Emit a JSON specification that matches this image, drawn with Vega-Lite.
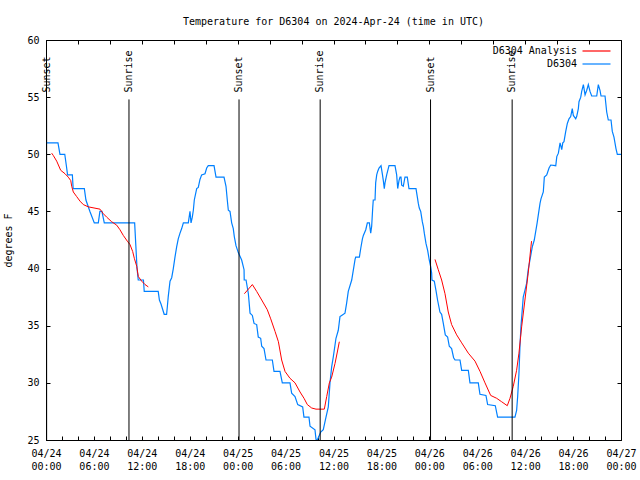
{
  "$schema": "https://vega.github.io/schema/vega-lite/v6.json",
  "width": 575,
  "height": 400,
  "autosize": {"type": "none"},
  "padding": {"left": 46, "top": 40, "right": 19, "bottom": 40},
  "background": "white",
  "title": {
    "text": "Temperature for D6304 on 2024-Apr-24 (time in UTC)",
    "font": "DejaVu Sans Mono",
    "fontSize": 10,
    "fontWeight": "normal",
    "color": "black",
    "anchor": "middle",
    "baseline": "alphabetic",
    "offset": 0
  },
  "config": {
    "font": "DejaVu Sans Mono",
    "view": {"stroke": "black", "strokeWidth": 1},
    "axis": {
      "labelFont": "DejaVu Sans Mono",
      "labelFontSize": 10,
      "labelColor": "black",
      "titleFont": "DejaVu Sans Mono",
      "titleFontSize": 10,
      "titleFontWeight": "normal",
      "titleColor": "black",
      "tickColor": "black",
      "domainColor": "black",
      "grid": false,
      "tickSize": -4,
      "labelFlush": false,
      "labelOverlap": false
    },
    "legend": {
      "labelFont": "DejaVu Sans Mono",
      "labelFontSize": 10,
      "labelColor": "black"
    }
  },
  "datasets": {
    "obs": [
      {"h":0,"t":51},{"h":1.5,"t":51},{"h":1.75,"t":50},{"h":2.35,"t":50},{"h":2.55,"t":49},{"h":2.7,"t":48.2},{"h":3.3,"t":48.2},{"h":3.4,"t":47},{"h":4.8,"t":47},{"h":5.0,"t":46},{"h":5.5,"t":45},{"h":6.05,"t":44},{"h":6.55,"t":44},{"h":6.75,"t":45},{"h":7.0,"t":45},{"h":7.3,"t":44},{"h":11.1,"t":44},{"h":11.25,"t":42},{"h":11.4,"t":40},{"h":11.55,"t":39},{"h":12.2,"t":39},{"h":12.3,"t":38},{"h":14.05,"t":38},{"h":14.2,"t":37.25},{"h":14.4,"t":36.9},{"h":14.8,"t":36},{"h":15.1,"t":36},{"h":15.2,"t":36.7},{"h":15.3,"t":37.5},{"h":15.53,"t":38.9},{"h":15.74,"t":39.2},{"h":15.94,"t":40},{"h":16.15,"t":41},{"h":16.36,"t":41.9},{"h":16.56,"t":42.6},{"h":16.78,"t":43.1},{"h":16.99,"t":43.5},{"h":17.2,"t":44},{"h":17.82,"t":44},{"h":18.03,"t":45},{"h":18.16,"t":44},{"h":18.32,"t":44.5},{"h":18.45,"t":45.1},{"h":18.57,"t":46},{"h":18.87,"t":47},{"h":19.07,"t":47.1},{"h":19.28,"t":47.8},{"h":19.49,"t":48.2},{"h":19.91,"t":48.3},{"h":20.12,"t":48.8},{"h":20.32,"t":49},{"h":21.04,"t":49},{"h":21.29,"t":48},{"h":22.29,"t":48},{"h":22.54,"t":47.2},{"h":22.7,"t":46},{"h":22.83,"t":45.1},{"h":23.04,"t":45},{"h":23.25,"t":44},{"h":23.45,"t":43.5},{"h":23.58,"t":42.8},{"h":23.79,"t":42},{"h":24.08,"t":41.4},{"h":24.5,"t":40.75},{"h":24.8,"t":39.9},{"h":24.82,"t":39},{"h":25.05,"t":39},{"h":25.34,"t":37.8},{"h":25.55,"t":36.1},{"h":25.84,"t":35.9},{"h":26.05,"t":35.2},{"h":26.38,"t":35.1},{"h":26.58,"t":34},{"h":26.88,"t":33.9},{"h":27.01,"t":33.2},{"h":27.3,"t":33},{"h":27.55,"t":32},{"h":28.34,"t":32},{"h":28.55,"t":31},{"h":29.3,"t":31},{"h":29.59,"t":30},{"h":30.55,"t":30},{"h":30.76,"t":29.1},{"h":31.18,"t":28.8},{"h":31.52,"t":28.1},{"h":32.14,"t":27.9},{"h":32.3,"t":27},{"h":32.93,"t":27},{"h":33.06,"t":26.2},{"h":33.68,"t":25.9},{"h":33.81,"t":25.05},{"h":33.97,"t":25},{"h":34.4,"t":25.7},{"h":34.72,"t":25.9},{"h":35.06,"t":27},{"h":35.35,"t":27.9},{"h":35.56,"t":30},{"h":35.77,"t":31.4},{"h":35.98,"t":32.3},{"h":36.31,"t":33.9},{"h":36.6,"t":34.6},{"h":36.81,"t":35.8},{"h":37.02,"t":35.9},{"h":37.44,"t":36.1},{"h":37.65,"t":37},{"h":37.85,"t":38},{"h":38.28,"t":39},{"h":38.7,"t":40.8},{"h":38.78,"t":41},{"h":39.24,"t":41},{"h":39.42,"t":41.8},{"h":39.62,"t":42.6},{"h":39.74,"t":42.9},{"h":40.04,"t":43.4},{"h":40.24,"t":44},{"h":40.49,"t":44},{"h":40.66,"t":43.1},{"h":40.78,"t":43.7},{"h":40.91,"t":45.3},{"h":40.98,"t":46},{"h":41.2,"t":46},{"h":41.28,"t":47.5},{"h":41.41,"t":48.2},{"h":41.53,"t":48.5},{"h":41.7,"t":48.8},{"h":41.95,"t":49},{"h":42.11,"t":48.3},{"h":42.24,"t":47.7},{"h":42.36,"t":47},{"h":42.45,"t":47.5},{"h":42.66,"t":48.2},{"h":42.95,"t":49},{"h":43.7,"t":49},{"h":43.91,"t":48.2},{"h":44.04,"t":47},{"h":44.2,"t":47.7},{"h":44.33,"t":48},{"h":44.45,"t":48},{"h":44.54,"t":47.3},{"h":44.74,"t":47.2},{"h":44.95,"t":48},{"h":45.24,"t":48},{"h":45.45,"t":47},{"h":46.33,"t":47},{"h":46.49,"t":46.3},{"h":46.62,"t":45.7},{"h":46.74,"t":45.3},{"h":46.92,"t":45},{"h":47.12,"t":44.1},{"h":47.25,"t":43.7},{"h":47.37,"t":43.1},{"h":47.58,"t":42.2},{"h":47.79,"t":41.6},{"h":47.99,"t":40.75},{"h":48.16,"t":40.2},{"h":48.29,"t":39.6},{"h":48.33,"t":39},{"h":48.62,"t":38.9},{"h":48.83,"t":38.1},{"h":49.03,"t":37.25},{"h":49.33,"t":36.2},{"h":49.54,"t":36},{"h":49.75,"t":35.2},{"h":50.0,"t":34.2},{"h":50.29,"t":34},{"h":50.5,"t":33.2},{"h":50.79,"t":33},{"h":51.04,"t":32.2},{"h":51.22,"t":32},{"h":51.84,"t":32},{"h":52.05,"t":31.1},{"h":52.88,"t":31.1},{"h":53.09,"t":30},{"h":54.13,"t":30},{"h":54.34,"t":29},{"h":55.09,"t":28.9},{"h":55.3,"t":28.1},{"h":56.26,"t":28},{"h":56.55,"t":27},{"h":58.72,"t":27},{"h":58.93,"t":27.6},{"h":59.06,"t":28.8},{"h":59.22,"t":30.8},{"h":59.35,"t":33.2},{"h":59.47,"t":34.9},{"h":59.76,"t":37.5},{"h":59.97,"t":38.1},{"h":60.18,"t":38.7},{"h":60.38,"t":39.9},{"h":60.6,"t":40.75},{"h":60.89,"t":41.9},{"h":61.14,"t":42.5},{"h":61.5,"t":44},{"h":61.86,"t":45.7},{"h":61.98,"t":46.1},{"h":62.27,"t":46.7},{"h":62.4,"t":48},{"h":62.7,"t":48.2},{"h":62.99,"t":48.8},{"h":63.2,"t":49.06},{"h":63.83,"t":49},{"h":63.96,"t":49.8},{"h":64.16,"t":50.1},{"h":64.37,"t":51},{"h":64.58,"t":50.4},{"h":64.71,"t":51},{"h":64.86,"t":51.1},{"h":65.08,"t":52},{"h":65.28,"t":52.7},{"h":65.49,"t":53.1},{"h":65.7,"t":53.3},{"h":65.9,"t":54},{"h":66.03,"t":53.4},{"h":66.33,"t":53.1},{"h":66.45,"t":53.3},{"h":66.66,"t":54},{"h":66.74,"t":54.6},{"h":66.96,"t":55},{"h":67.08,"t":55.5},{"h":67.29,"t":56.1},{"h":67.5,"t":55.2},{"h":67.71,"t":55.6},{"h":67.91,"t":56.1},{"h":68.12,"t":55.5},{"h":68.33,"t":55.1},{"h":68.96,"t":55.1},{"h":69.16,"t":56.1},{"h":69.37,"t":55.6},{"h":69.5,"t":55.1},{"h":70.0,"t":55.1},{"h":70.21,"t":53.7},{"h":70.41,"t":53},{"h":70.75,"t":53},{"h":70.91,"t":52},{"h":71.12,"t":51.5},{"h":71.37,"t":50.5},{"h":71.54,"t":50},{"h":72,"t":50}
    ],
    "ana": [
      {"h":0.71,"t":50.1,"g":1},{"h":0.91,"t":49.9,"g":1},{"h":1.34,"t":49.4,"g":1},{"h":1.84,"t":48.6,"g":1},{"h":2.38,"t":48.3,"g":1},{"h":2.79,"t":48.0,"g":1},{"h":3.1,"t":47.7,"g":1},{"h":3.22,"t":47.2,"g":1},{"h":3.42,"t":46.7,"g":1},{"h":3.84,"t":46.3,"g":1},{"h":4.26,"t":45.9,"g":1},{"h":4.67,"t":45.6,"g":1},{"h":5.3,"t":45.4,"g":1},{"h":6.76,"t":45.2,"g":1},{"h":7.18,"t":44.8,"g":1},{"h":7.6,"t":44.5,"g":1},{"h":8.22,"t":44.1,"g":1},{"h":8.85,"t":43.8,"g":1},{"h":9.26,"t":43.4,"g":1},{"h":9.68,"t":42.9,"g":1},{"h":10.18,"t":42.4,"g":1},{"h":10.52,"t":42.1,"g":1},{"h":10.85,"t":41.5,"g":1},{"h":11.06,"t":40.9,"g":1},{"h":11.36,"t":40.2,"g":1},{"h":11.56,"t":39.3,"g":1},{"h":11.98,"t":38.9,"g":1},{"h":12.4,"t":38.6,"g":1},{"h":12.81,"t":38.4,"g":1},
      {"h":24.84,"t":37.8,"g":2},{"h":25.84,"t":38.6,"g":2},{"h":26.38,"t":38.0,"g":2},{"h":27.01,"t":37.25,"g":2},{"h":27.71,"t":36.4,"g":2},{"h":28.14,"t":35.6,"g":2},{"h":28.68,"t":34.5,"g":2},{"h":29.1,"t":33.6,"g":2},{"h":29.51,"t":32.0,"g":2},{"h":29.93,"t":31.0,"g":2},{"h":30.55,"t":30.4,"g":2},{"h":31.18,"t":30.0,"g":2},{"h":31.81,"t":29.2,"g":2},{"h":32.31,"t":28.65,"g":2},{"h":32.72,"t":28.1,"g":2},{"h":33.27,"t":27.8,"g":2},{"h":33.81,"t":27.7,"g":2},{"h":34.85,"t":27.7,"g":2},{"h":35.15,"t":28.8,"g":2},{"h":35.48,"t":30.0,"g":2},{"h":35.77,"t":30.5,"g":2},{"h":36.19,"t":31.7,"g":2},{"h":36.48,"t":32.7,"g":2},{"h":36.73,"t":33.6,"g":2},
      {"h":48.71,"t":40.8,"g":3},{"h":49.12,"t":39.9,"g":3},{"h":49.54,"t":39.0,"g":3},{"h":49.96,"t":37.8,"g":3},{"h":50.37,"t":36.2,"g":3},{"h":50.79,"t":35.1,"g":3},{"h":51.42,"t":34.2,"g":3},{"h":52.05,"t":33.5,"g":3},{"h":52.88,"t":32.6,"g":3},{"h":53.72,"t":31.9,"g":3},{"h":54.35,"t":31.0,"g":3},{"h":54.97,"t":30.0,"g":3},{"h":55.68,"t":28.9,"g":3},{"h":56.43,"t":28.65,"g":3},{"h":57.05,"t":28.35,"g":3},{"h":57.76,"t":28.0,"g":3},{"h":58.1,"t":28.65,"g":3},{"h":58.51,"t":29.7,"g":3},{"h":58.93,"t":31.1,"g":3},{"h":59.22,"t":32.6,"g":3},{"h":59.56,"t":34.9,"g":3},{"h":59.97,"t":37.25,"g":3},{"h":60.38,"t":39.6,"g":3},{"h":60.72,"t":41.9,"g":3},{"h":60.8,"t":42.4,"g":3}
    ],
    "sun": [
      {"h":0.08,"event":"Sunset"},{"h":10.39,"event":"Sunrise"},{"h":24.17,"event":"Sunset"},{"h":34.33,"event":"Sunrise"},{"h":48.15,"event":"Sunset"},{"h":58.37,"event":"Sunrise"}
    ]
  },
  "resolve": {"axis": {"x": "independent", "y": "independent"}},
  "layer": [
    {
      "data": {"name": "obs"},
      "mark": {"type": "line", "strokeWidth": 1.2, "clip": true},
      "encoding": {
        "x": {
          "field": "h", "type": "quantitative",
          "scale": {"domain": [0, 72], "nice": false, "zero": false},
          "axis": {
            "orient": "bottom",
            "title": null,
            "values": [0,2,4,6,8,10,12,14,16,18,20,22,24,26,28,30,32,34,36,38,40,42,44,46,48,50,52,54,56,58,60,62,64,66,68,70,72],
            "labelExpr": "datum.value % 6 == 0 ? ['04/' + (24 + floor(datum.value / 24)), (datum.value % 24 < 10 ? '0' : '') + (datum.value % 24) + ':00'] : ''",
            "labelPadding": 12,
            "labelLineHeight": 13,
            "labelBaseline": "top"
          }
        },
        "y": {
          "field": "t", "type": "quantitative",
          "scale": {"domain": [25, 60], "nice": false, "zero": false},
          "axis": {
            "orient": "left",
            "title": "degrees F",
            "values": [25,30,35,40,45,50,55,60],
            "labelPadding": 11,
            "titleX": -38,
            "titleY": 200,
            "titleAngle": 270,
            "titleBaseline": "middle",
            "titleAlign": "center"
          }
        },
        "color": {
          "datum": "D6304",
          "scale": {"domain": ["D6304 Analysis", "D6304"], "range": ["#ff0000", "#0080ff"]},
          "legend": {
            "title": null,
            "orient": "none",
            "legendX": 542.5,
            "legendY": 3,
            "symbolType": "M-2,0H2",
            "symbolSize": 196,
            "symbolStrokeWidth": 1.2,
            "symbolFillColor": "transparent",
            "rowPadding": 0,
            "labelAlign": "right",
            "labelOffset": -27.5,
            "padding": 0
          }
        }
      }
    },
    {
      "data": {"name": "ana"},
      "mark": {"type": "line", "strokeWidth": 1, "clip": true},
      "encoding": {
        "x": {"field": "h", "type": "quantitative", "axis": null},
        "y": {"field": "t", "type": "quantitative", "axis": null},
        "detail": {"field": "g"},
        "color": {"datum": "D6304 Analysis"}
      }
    },
    {
      "data": {"name": "sun"},
      "mark": {"type": "rule", "color": "black", "strokeWidth": 1},
      "encoding": {
        "x": {"field": "h", "type": "quantitative", "axis": null},
        "y": {
          "datum": 25, "type": "quantitative",
          "axis": {"orient": "right", "title": null, "labels": false, "domain": false, "values": [25,30,35,40,45,50,55,60]}
        },
        "y2": {"datum": 54.8}
      }
    },
    {
      "data": {"name": "sun"},
      "mark": {"type": "text", "angle": 270, "align": "left", "baseline": "middle", "font": "DejaVu Sans Mono", "fontSize": 10, "color": "black"},
      "encoding": {
        "x": {
          "field": "h", "type": "quantitative",
          "axis": {"orient": "top", "title": null, "labels": false, "domain": false, "values": [0,4,8,12,16,20,24,28,32,36,40,44,48,52,56,60,64,68,72]}
        },
        "y": {"datum": 55.4, "type": "quantitative", "axis": null},
        "text": {"field": "event"}
      }
    }
  ]
}
